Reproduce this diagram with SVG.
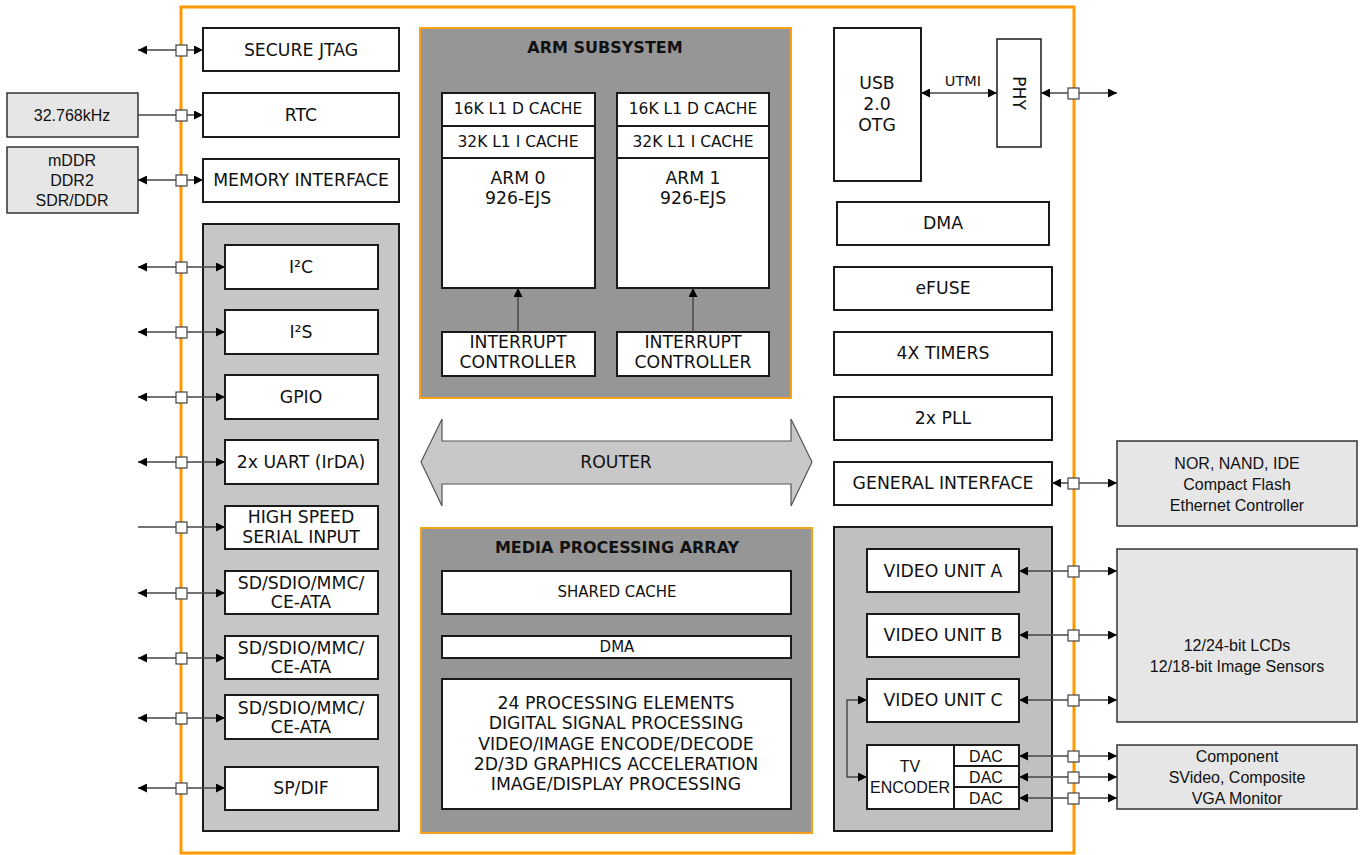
<svg xmlns="http://www.w3.org/2000/svg" width="1363" height="855" viewBox="0 0 1363 855">
  <style>
    .box { fill: #ffffff; stroke: #1a1a1a; stroke-width: 2; }
    .ext { fill: #e6e6e6; stroke: #333333; stroke-width: 1.5; }
    .panel { fill: #c6c6c6; stroke: #1a1a1a; stroke-width: 2; }
    .sub { fill: #969696; stroke: #f7a21c; stroke-width: 2; }
    .frame { fill: none; stroke: #ff9900; stroke-width: 3; }
    .t { font-family: "DejaVu Sans", Verdana, sans-serif; font-size: 17.3px; fill: #111; text-anchor: middle; }
    .s { font-family: "DejaVu Sans", Verdana, sans-serif; font-size: 15.5px; fill: #111; text-anchor: middle; }
    .b { font-family: "DejaVu Sans", Verdana, sans-serif; font-size: 16px; font-weight: bold; fill: #111; text-anchor: middle; }
    .a { font-family: "Liberation Sans", Arial, sans-serif; font-size: 16px; fill: #111; text-anchor: middle; }
    .ln { fill: none; stroke: #444444; stroke-width: 1.4; }
    .pin { fill: #ffffff; stroke: #444444; stroke-width: 1.2; }
  </style>
  <defs>
    <marker id="ah" viewBox="0 0 10 10" refX="10" refY="5" markerUnits="userSpaceOnUse" markerWidth="11" markerHeight="9" orient="auto-start-reverse">
      <path d="M0,0 L10,5 L0,10 z" fill="#000"/>
    </marker>
  </defs>

  <!-- chip boundary -->
  <rect class="frame" x="181" y="7" width="893" height="846"/>

  <!-- external devices -->
  <g id="osc"><rect class="ext" x="7" y="93" width="131" height="44"/><text class="a" x="72" y="121">32.768kHz</text></g>
  <g id="dram"><rect class="ext" x="7" y="147" width="131" height="66"/>
    <text class="a" x="72" y="166">mDDR</text><text class="a" x="72" y="186">DDR2</text><text class="a" x="72" y="206">SDR/DDR</text></g>
  <g id="ext-bus"><rect class="ext" x="1117" y="441" width="240" height="85"/>
    <text class="a" x="1237" y="469">NOR, NAND, IDE</text><text class="a" x="1237" y="490">Compact Flash</text><text class="a" x="1237" y="511">Ethernet Controller</text></g>
  <g id="ext-display"><rect class="ext" x="1117" y="549" width="240" height="173"/>
    <text class="a" x="1237" y="651">12/24-bit LCDs</text><text class="a" x="1237" y="672">12/18-bit Image Sensors</text></g>
  <g id="ext-tv"><rect class="ext" x="1117" y="745" width="240" height="64"/>
    <text class="a" x="1237" y="762">Component</text><text class="a" x="1237" y="783">SVideo, Composite</text><text class="a" x="1237" y="804">VGA Monitor</text></g>

  <!-- left column -->
  <g id="jtag"><rect class="box" x="203" y="28" width="196" height="43"/><text class="t" x="301" y="56">SECURE JTAG</text></g>
  <g id="rtc"><rect class="box" x="203" y="93" width="196" height="44"/><text class="t" x="301" y="121">RTC</text></g>
  <g id="memif"><rect class="box" x="203" y="159" width="196" height="43"/><text class="t" x="301" y="186">MEMORY INTERFACE</text></g>

  <g id="periph">
    <rect class="panel" x="203" y="224" width="196" height="607"/>
    <g id="i2c"><rect class="box" x="225" y="245" width="153" height="44"/><text class="t" x="301" y="273">I²C</text></g>
    <g id="i2s"><rect class="box" x="225" y="310" width="153" height="44"/><text class="t" x="301" y="338">I²S</text></g>
    <g id="gpio"><rect class="box" x="225" y="375" width="153" height="44"/><text class="t" x="301" y="403">GPIO</text></g>
    <g id="uart"><rect class="box" x="225" y="440" width="153" height="44"/><text class="t" x="301" y="468">2x UART (IrDA)</text></g>
    <g id="hssi"><rect class="box" x="225" y="506" width="153" height="43"/><text class="t" x="301" y="523">HIGH SPEED</text><text class="t" x="301" y="543">SERIAL INPUT</text></g>
    <g id="sd0"><rect class="box" x="225" y="571" width="153" height="43"/><text class="t" x="301" y="589">SD/SDIO/MMC/</text><text class="t" x="301" y="608">CE-ATA</text></g>
    <g id="sd1"><rect class="box" x="225" y="636" width="153" height="43"/><text class="t" x="301" y="654">SD/SDIO/MMC/</text><text class="t" x="301" y="673">CE-ATA</text></g>
    <g id="sd2"><rect class="box" x="225" y="695" width="153" height="44"/><text class="t" x="301" y="714">SD/SDIO/MMC/</text><text class="t" x="301" y="733">CE-ATA</text></g>
    <g id="spdif"><rect class="box" x="225" y="767" width="153" height="43"/><text class="t" x="301" y="794">SP/DIF</text></g>
  </g>

  <!-- ARM subsystem -->
  <g id="arm">
    <rect class="sub" x="420" y="28" width="371" height="370"/>
    <text class="b" x="605" y="53">ARM SUBSYSTEM</text>
    <g id="arm0">
      <rect class="box" x="442" y="93" width="153" height="195"/>
      <line x1="442" y1="126" x2="595" y2="126" stroke="#1a1a1a" stroke-width="2"/>
      <line x1="442" y1="158" x2="595" y2="158" stroke="#1a1a1a" stroke-width="2"/>
      <text class="s" x="518" y="114">16K L1 D CACHE</text>
      <text class="s" x="518" y="147">32K L1 I CACHE</text>
      <text class="t" x="518" y="184">ARM 0</text>
      <text class="t" x="518" y="204">926-EJS</text>
    </g>
    <g id="arm1">
      <rect class="box" x="617" y="93" width="152" height="195"/>
      <line x1="617" y1="126" x2="769" y2="126" stroke="#1a1a1a" stroke-width="2"/>
      <line x1="617" y1="158" x2="769" y2="158" stroke="#1a1a1a" stroke-width="2"/>
      <text class="s" x="693" y="114">16K L1 D CACHE</text>
      <text class="s" x="693" y="147">32K L1 I CACHE</text>
      <text class="t" x="693" y="184">ARM 1</text>
      <text class="t" x="693" y="204">926-EJS</text>
    </g>
    <g id="intc0"><rect class="box" x="442" y="332" width="153" height="44"/><text class="t" x="518" y="348">INTERRUPT</text><text class="t" x="518" y="368">CONTROLLER</text></g>
    <g id="intc1"><rect class="box" x="617" y="332" width="152" height="44"/><text class="t" x="693" y="348">INTERRUPT</text><text class="t" x="693" y="368">CONTROLLER</text></g>
  </g>

  <!-- on-chip router -->
  <g id="router">
    <path d="M421,462 L442,419 L442,441 L791,441 L791,419 L812,462 L791,506 L791,484 L442,484 L442,506 Z" fill="#c8c8c8" stroke="#555555" stroke-width="1.2"/>
    <text class="t" x="616" y="468">ROUTER</text>
  </g>

  <!-- media processing array -->
  <g id="mpa">
    <rect class="sub" x="421" y="528" width="391" height="305"/>
    <text class="b" x="617" y="553">MEDIA PROCESSING ARRAY</text>
    <g id="shared-cache"><rect class="box" x="442" y="571" width="349" height="43"/><text class="s" x="617" y="597" style="font-size:15px">SHARED CACHE</text></g>
    <g id="mpa-dma"><rect class="box" x="442" y="636" width="349" height="22"/><text class="s" x="617" y="652" style="font-size:15px">DMA</text></g>
    <g id="pe"><rect class="box" x="442" y="679" width="349" height="130"/>
      <text class="t" x="616" y="709">24 PROCESSING ELEMENTS</text>
      <text class="t" x="616" y="729">DIGITAL SIGNAL PROCESSING</text>
      <text class="t" x="616" y="750">VIDEO/IMAGE ENCODE/DECODE</text>
      <text class="t" x="616" y="770">2D/3D GRAPHICS ACCELERATION</text>
      <text class="t" x="616" y="790">IMAGE/DISPLAY PROCESSING</text>
    </g>
  </g>

  <!-- right column -->
  <g id="usb"><rect class="box" x="834" y="28" width="87" height="153"/>
    <text class="t" x="877" y="89">USB</text><text class="t" x="877" y="110">2.0</text><text class="t" x="877" y="131">OTG</text></g>
  <g id="phy"><rect fill="#fff" stroke="#1a1a1a" stroke-width="1.5" x="997" y="39" width="44" height="108"/>
    <text class="t" x="0" y="0" transform="translate(1013,93) rotate(90)">PHY</text></g>
  <g id="dma"><rect class="box" x="837" y="202" width="212" height="43"/><text class="t" x="943" y="229">DMA</text></g>
  <g id="efuse"><rect class="box" x="834" y="267" width="218" height="43"/><text class="t" x="943" y="294">eFUSE</text></g>
  <g id="timers"><rect class="box" x="834" y="332" width="218" height="43"/><text class="t" x="943" y="359">4X TIMERS</text></g>
  <g id="pll"><rect class="box" x="834" y="397" width="218" height="43"/><text class="t" x="943" y="424">2x PLL</text></g>
  <g id="genif"><rect class="box" x="834" y="462" width="218" height="43"/><text class="t" x="943" y="489">GENERAL INTERFACE</text></g>

  <g id="video">
    <rect class="panel" x="834" y="527" width="218" height="304" style="fill:#c0c0c0"/>
    <g id="vua"><rect class="box" x="867" y="549" width="152" height="43"/><text class="t" x="943" y="577">VIDEO UNIT A</text></g>
    <g id="vub"><rect class="box" x="867" y="614" width="152" height="43"/><text class="t" x="943" y="641">VIDEO UNIT B</text></g>
    <g id="vuc"><rect class="box" x="867" y="679" width="152" height="43"/><text class="t" x="943" y="706">VIDEO UNIT C</text></g>
    <g id="tvenc">
      <rect class="box" x="867" y="745" width="152" height="64"/>
      <line x1="954" y1="745" x2="954" y2="809" stroke="#1a1a1a" stroke-width="2"/>
      <line x1="954" y1="766" x2="1019" y2="766" stroke="#1a1a1a" stroke-width="2"/>
      <line x1="954" y1="787" x2="1019" y2="787" stroke="#1a1a1a" stroke-width="2"/>
      <text class="a" x="910" y="772">TV</text>
      <text class="a" x="910" y="793">ENCODER</text>
      <text class="a" x="986" y="762">DAC</text>
      <text class="a" x="986" y="783">DAC</text>
      <text class="a" x="986" y="804">DAC</text>
    </g>
  </g>

  <!-- connectors -->
  <g id="connectors">
    <g class="ln" marker-start="url(#ah)" marker-end="url(#ah)">
      <line x1="138" y1="50" x2="203" y2="50"/>
      <line x1="138" y1="180" x2="203" y2="180"/>
      <line x1="138" y1="267" x2="225" y2="267"/>
      <line x1="138" y1="332" x2="225" y2="332"/>
      <line x1="138" y1="397" x2="225" y2="397"/>
      <line x1="138" y1="462" x2="225" y2="462"/>
      <line x1="138" y1="593" x2="225" y2="593"/>
      <line x1="138" y1="658" x2="225" y2="658"/>
      <line x1="138" y1="718" x2="225" y2="718"/>
      <line x1="138" y1="788" x2="225" y2="788"/>
      <line x1="921" y1="93" x2="997" y2="93"/>
      <line x1="1041" y1="93" x2="1117" y2="93"/>
      <line x1="1052" y1="483" x2="1117" y2="483"/>
      <line x1="1019" y1="571" x2="1117" y2="571"/>
      <line x1="1019" y1="635" x2="1117" y2="635"/>
      <line x1="1019" y1="700" x2="1117" y2="700"/>
      <line x1="1019" y1="756" x2="1117" y2="756"/>
      <line x1="1019" y1="777" x2="1117" y2="777"/>
      <line x1="1019" y1="798" x2="1117" y2="798"/>
      <polyline points="867,777 847,777 847,700 867,700"/>
    </g>
    <g class="ln" marker-end="url(#ah)">
      <line x1="138" y1="115" x2="203" y2="115"/>
      <line x1="138" y1="527" x2="225" y2="527"/>
      <line x1="518" y1="332" x2="518" y2="288"/>
      <line x1="693" y1="332" x2="693" y2="288"/>
    </g>
    <text class="t" x="963" y="86" style="font-size:14.5px">UTMI</text>
    <!-- pins on the chip boundary -->
    <g class="pin">
      <rect x="176" y="45" width="11" height="11"/>
      <rect x="176" y="110" width="11" height="11"/>
      <rect x="176" y="175" width="11" height="11"/>
      <rect x="176" y="262" width="11" height="11"/>
      <rect x="176" y="327" width="11" height="11"/>
      <rect x="176" y="392" width="11" height="11"/>
      <rect x="176" y="457" width="11" height="11"/>
      <rect x="176" y="522" width="11" height="11"/>
      <rect x="176" y="588" width="11" height="11"/>
      <rect x="176" y="653" width="11" height="11"/>
      <rect x="176" y="713" width="11" height="11"/>
      <rect x="176" y="783" width="11" height="11"/>
      <rect x="1068" y="88" width="11" height="11"/>
      <rect x="1068" y="478" width="11" height="11"/>
      <rect x="1068" y="566" width="11" height="11"/>
      <rect x="1068" y="630" width="11" height="11"/>
      <rect x="1068" y="695" width="11" height="11"/>
      <rect x="1068" y="751" width="11" height="11"/>
      <rect x="1068" y="772" width="11" height="11"/>
      <rect x="1068" y="793" width="11" height="11"/>
    </g>
  </g>
</svg>
